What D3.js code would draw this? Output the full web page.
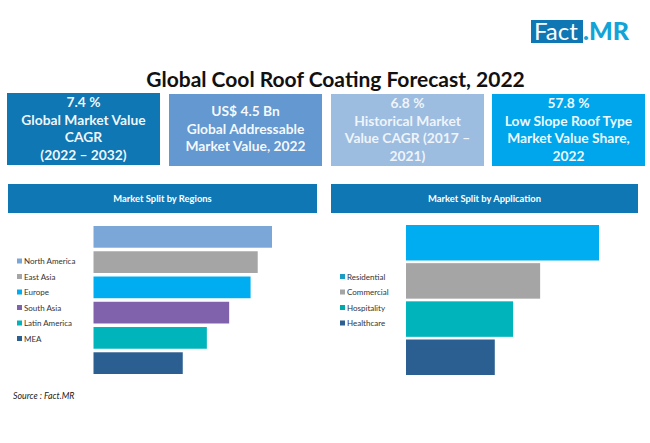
<!DOCTYPE html>
<html>
<head>
<meta charset="utf-8">
<script src="https://cdn.jsdelivr.net/npm/d3@7"></script>
<style>
  html, body { margin: 0; padding: 0; background: #fff; }
  svg { display: block; }
  text { font-family: Lato, "Open Sans", sans-serif; }
</style>
</head>
<body>
<svg id="chart" width="650" height="443"></svg>
<script>
// values are read off the picture, longest bar = 100 (the original has no axis)
const regions = ["North America", "East Asia", "Europe", "South Asia", "Latin America", "MEA"];
const regionValues = [100, 92, 88, 76, 63.5, 50];
const regionColors = ["#7aa7d8", "#a5a5a5", "#00adf0", "#7f62ab", "#00b4bc", "#2b5f92"];

const applications = ["Residential", "Commercial", "Hospitality", "Healthcare"];
const applicationValues = [100, 69.5, 55.5, 46];
const applicationColors = ["#00adf0", "#a5a5a5", "#00b4bc", "#2b5f92"];
const applicationKeyColors = ["#1a9cc4", "#a5a5a5", "#00a9a9", "#2b5f92"];

const cardLines = [
  ["7.4 %", "Global Market Value", "CAGR", "(2022 – 2032)"],
  ["US$ 4.5 Bn", "Global Addressable", "Market Value, 2022"],
  ["6.8 %", "Historical Market", "Value CAGR (2017 –", "2021)"],
  ["57.8 %", "Low Slope Roof Type", "Market Value Share,", "2022"]
];
const cardColors = ["#0f77b3", "#6398d0", "#9dbde0", "#00a6ec"];
const cardX = [7, 169, 331, 492];

const svg = d3.select("#chart");

// title
svg.append("text")
  .attr("x", 335.5).attr("y", 87)
  .attr("text-anchor", "middle")
  .attr("font-size", 21)
  .attr("font-weight", 700)
  .attr("fill", "#111")
  .text("Global Cool Roof Coating Forecast, 2022");

// logo
svg.append("rect").attr("x", 531).attr("y", 20).attr("width", 52).attr("height", 23).attr("fill", "#0f77b3");
svg.append("text").attr("x", 534).attr("y", 39.5)
  .attr("font-size", 24).attr("fill", "#fff").text("Fact");
svg.append("text").attr("x", 583).attr("y", 40)
  .attr("font-size", 25).attr("font-weight", 900).attr("fill", "#14a3d6").text(".MR");

// kpi cards
cardLines.forEach((lines, i) => {
  const g = svg.append("g").attr("transform", `translate(${cardX[i]},${i == 0 ? 93 : 94})`);
  g.append("rect").attr("width", 153).attr("height", 72).attr("fill", cardColors[i]);
  const top = lines.length == 3 ? 22 : 14;
  g.selectAll("text")
    .data(lines)
    .enter().append("text")
    .attr("x", 76.5)
    .attr("y", (d, j) => top + j * 17.7)
    .attr("text-anchor", "middle")
    .attr("font-size", 13.8)
    .attr("font-weight", 700)
    .attr("fill", "#fff")
    .attr("fill-opacity", i == 2 ? 0.85 : 0.95)
    .text(d => d);
});

// one panel: header, bars and the key beside them
function drawPanel(p) {
  svg.append("rect")
    .attr("x", p.headX).attr("y", 184)
    .attr("width", p.headW).attr("height", 29)
    .attr("fill", "#0f77b3");
  svg.append("text")
    .attr("x", p.headX + p.headW / 2).attr("y", 202)
    .attr("text-anchor", "middle")
    .attr("font-size", 9.4).attr("font-weight", 700).attr("fill", "#fff")
    .text(p.title);

  const x = d3.scaleLinear().domain([0, 100]).range([p.x0, p.x1]);
  const y = d3.scaleBand().domain(p.names).range([p.y0, p.y1]).paddingInner(p.pad);

  svg.selectAll(null)
    .data(p.names)
    .enter().append("rect")
    .attr("x", x(0))
    .attr("y", d => y(d))
    .attr("width", (d, i) => x(p.values[i]) - x(0))
    .attr("height", y.bandwidth())
    .attr("fill", (d, i) => p.colors[i]);

  const ky = d3.scalePoint().domain(p.names).range(p.keyRange);
  const key = svg.selectAll(null)
    .data(p.names)
    .enter().append("g")
    .attr("transform", d => `translate(${p.keyX},${ky(d)})`);
  key.append("rect")
    .attr("y", -2.5).attr("width", 5).attr("height", 5)
    .attr("fill", (d, i) => p.keyColors[i]);
  key.append("text")
    .attr("x", 7).attr("y", 3)
    .attr("font-family", "'Open Sans', sans-serif")
    .attr("font-size", 8)
    .attr("fill", "#333")
    .text(d => d);
}

drawPanel({
  title: "Market Split by Regions", headX: 8, headW: 309,
  names: regions, values: regionValues, colors: regionColors, keyColors: regionColors,
  x0: 93.5, x1: 272, y0: 226, y1: 374, pad: 0.14,
  keyX: 17, keyRange: [261, 338.5]
});
drawPanel({
  title: "Market Split by Application", headX: 331, headW: 307,
  names: applications, values: applicationValues, colors: applicationColors, keyColors: applicationKeyColors,
  x0: 406, x1: 599, y0: 225, y1: 375, pad: 0.07,
  keyX: 340, keyRange: [276.5, 323]
});

// source
svg.append("text")
  .attr("x", 13).attr("y", 399)
  .attr("font-family", "'Open Sans', sans-serif")
  .attr("font-size", 8.8).attr("font-style", "italic").attr("fill", "#222")
  .text("Source : Fact.MR");
</script>
</body>
</html>
